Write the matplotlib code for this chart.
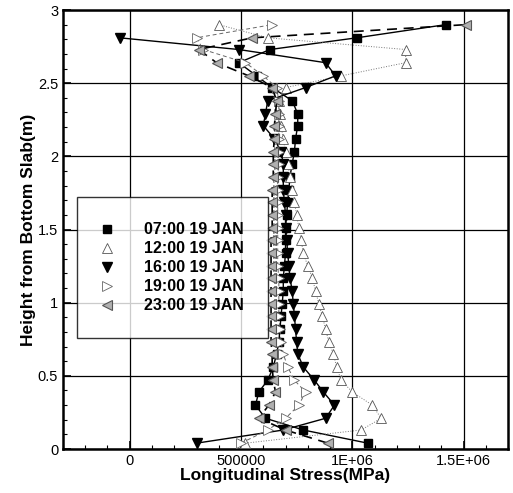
import numpy as np
import matplotlib
matplotlib.use("Agg")
from matplotlib import pyplot as plt
from matplotlib.lines import Line2D
from matplotlib.ticker import MultipleLocator

plt.rcParams['font.family'] = ['Liberation Sans', 'DejaVu Sans']

# heights of the gauge levels (m)
heights = [0.04, 0.13, 0.21, 0.30, 0.39, 0.47, 0.56, 0.65, 0.73, 0.82,
           0.91, 0.99, 1.08, 1.17, 1.25, 1.34, 1.43, 1.51, 1.60, 1.69,
           1.77, 1.86, 1.95, 2.03, 2.12, 2.21, 2.29, 2.38, 2.47, 2.55,
           2.64, 2.73, 2.81, 2.90]

# longitudinal stress, in units of 1E+06
s_0700 = [1.07, 0.78, 0.61, 0.565, 0.58, 0.62, 0.645, 0.66, 0.67, 0.675,
          0.68, 0.685, 0.69, 0.69, 0.695, 0.70, 0.70, 0.70, 0.705, 0.71,
          0.715, 0.72, 0.73, 0.74, 0.745, 0.755, 0.755, 0.73, 0.64, 0.57,
          0.49, 0.63, 1.02, 1.42]
s_1200 = [0.52, 1.04, 1.13, 1.09, 1.00, 0.95, 0.93, 0.915, 0.895, 0.88,
          0.865, 0.85, 0.835, 0.82, 0.80, 0.78, 0.77, 0.76, 0.75, 0.74,
          0.73, 0.72, 0.71, 0.70, 0.69, 0.68, 0.675, 0.67, 0.70, 0.95,
          1.24, 1.24, 0.62, 0.40]
s_1600 = [0.30, 0.69, 0.88, 0.92, 0.87, 0.83, 0.78, 0.755, 0.75, 0.745,
          0.74, 0.735, 0.73, 0.72, 0.715, 0.71, 0.705, 0.70, 0.70, 0.695,
          0.69, 0.69, 0.69, 0.68, 0.65, 0.60, 0.61, 0.62, 0.79, 0.925,
          0.88, 0.49, -0.045]
s_1900 = [0.50, 0.62, 0.70, 0.76, 0.79, 0.74, 0.71, 0.69, 0.68, 0.675,
          0.67, 0.67, 0.67, 0.67, 0.665, 0.665, 0.665, 0.665, 0.665, 0.665,
          0.665, 0.665, 0.67, 0.67, 0.67, 0.67, 0.67, 0.67, 0.66, 0.60,
          0.52, 0.33, 0.30, 0.64]
s_2300 = [0.89, 0.70, 0.58, 0.625, 0.655, 0.645, 0.64, 0.64, 0.635, 0.635,
          0.635, 0.635, 0.635, 0.635, 0.635, 0.635, 0.635, 0.64, 0.64, 0.64,
          0.64, 0.645, 0.645, 0.645, 0.65, 0.65, 0.655, 0.66, 0.64, 0.535,
          0.39, 0.31, 0.55, 1.51]

labels = ['07:00 19 JAN', '12:00 19 JAN', '16:00 19 JAN', '19:00 19 JAN', '23:00 19 JAN']

fig = plt.figure(figsize=(5.13, 4.93), dpi=100)
ax = fig.add_axes([0.1228, 0.0892, 0.8675, 0.8905])

series = [
    (s_0700, dict(color='black', lw=1.0, ls='-', marker='s', ms=6, mfc='black', mec='black')),
    (s_1200, dict(color='#777777', lw=0.7, ls=':', marker='^', ms=6.5, mfc='white', mec='#555555', mew=0.6)),
    (s_1600, dict(color='black', lw=1.0, ls='-', marker='v', ms=7.5, mfc='black', mec='black')),
    (s_1900, dict(color='#666666', lw=0.7, ls=(0, (4, 3)), marker='>', ms=6.5, mfc='white', mec='#666666', mew=0.6)),
    (s_2300, dict(color='black', lw=1.2, ls=(0, (6, 4)), marker='<', ms=7, mfc='#b0b0b0', mec='#555555', mew=0.8)),
]

handles = []
for (vals, style), lab in zip(series, labels):
    x = np.array(vals) * 1e6
    ax.plot(x, heights[:len(x)], zorder=3, **style)
    hstyle = {k: v for k, v in style.items() if k not in ('ls', 'lw', 'color')}
    handles.append(Line2D([], [], ls='none', **hstyle))

ax.set_xlim(-300000, 1700000)
ax.set_ylim(0, 3)
ax.set_xticks([0, 500000, 1000000, 1500000], ['0', '500000', '1E+06', '1.5E+06'])
ax.set_yticks([0, 0.5, 1, 1.5, 2, 2.5, 3], ['0', '0.5', '1', '1.5', '2', '2.5', '3'])
ax.xaxis.set_minor_locator(MultipleLocator(100000))
ax.yaxis.set_minor_locator(MultipleLocator(0.1))
ax.tick_params(which='both', direction='in', top=False, right=False, labelsize=10.5, colors='black')
ax.tick_params(which='major', length=6, width=1.2)
ax.tick_params(which='minor', length=3, width=0.8)
ax.grid(True, which='major', color='black', lw=0.9)
for sp in ax.spines.values():
    sp.set_linewidth(1.8)

ax.set_xlabel('Longitudinal Stress(MPa)', fontsize=12.5, fontweight='bold', labelpad=0)
ax.set_ylabel('Height from Bottom Slab(m)', fontsize=12.5, fontweight='bold', labelpad=1)

leg = ax.legend(handles, labels, loc='upper left', bbox_to_anchor=(0.032, 0.573),
                prop={'weight': 'bold', 'size': 11.5}, frameon=True, fancybox=False,
                borderpad=1.55, labelspacing=0.25, handletextpad=2.0, handlelength=0.6,
                borderaxespad=0)
leg.get_frame().set_edgecolor('black')
leg.get_frame().set_linewidth(1.0)
leg.set_zorder(5)

plt.savefig('out.png', dpi=100)
